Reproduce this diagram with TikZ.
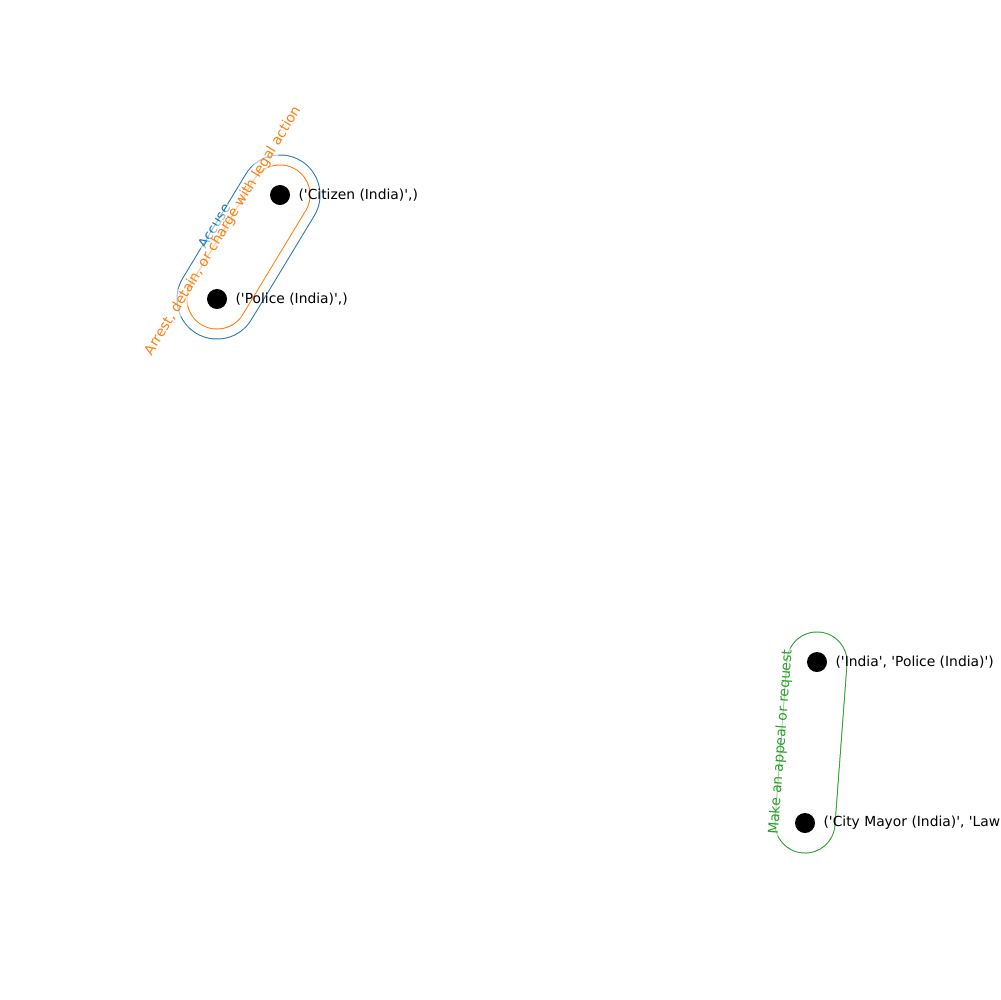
\documentclass[tikz,border=0pt]{standalone}
\usepackage{fontspec}
\setmainfont{DejaVu Sans}[Ligatures=TeXOff]
\usepackage{tikz}
\usetikzlibrary{backgrounds}

\definecolor{c1}{HTML}{1F77B4}
\definecolor{c2}{HTML}{FF7F0E}
\definecolor{c3}{HTML}{2CA02C}

\tikzset{
  vertex/.style={circle, fill=black, inner sep=0pt, minimum size=0.2in},
  vlabel/.style={inner sep=0pt, font=\fontsize{10}{12}\selectfont, label distance=0.08in},
  hull/.style={draw=#1, double=white, line width=0.01in, line cap=round},
  elabel/.style={text=#1, fill=white, fill opacity=0.55, text opacity=1, inner sep=1pt, font=\fontsize{10}{12}\selectfont},
}

\begin{document}
\begin{tikzpicture}[x=0.01in, y=-0.01in]
        \useasboundingbox (0,0) rectangle (1000,1000);
        \clip (0,0) rectangle (1000,1000);

        \node[vertex, label={[vlabel]right:{('Citizen (India)',)}}] (citizen) at (280,195) {};
        \node[vertex, label={[vlabel]right:{('Police (India)',)}}] (police) at (217,299) {};
        \node[vertex, label={[vlabel]right:{('India', 'Police (India)')}}] (indiapolice) at (817,662) {};
        \node[vertex, label={[vlabel]right:{('City Mayor (India)', 'Law}}] (mayor) at (805,823) {};

        \begin{pgfonlayer}{background}
        \draw[hull=c1, double distance=0.79in] (police.center) -- (citizen.center);
        \draw[hull=c2, double distance=0.59in] (police.center) -- (citizen.center);
        \draw[hull=c3, double distance=0.59in] (mayor.center) -- (indiapolice.center);

        \node[elabel=c1, rotate=58.8] (accuse) at (214,226) {Accuse};
        \node[elabel=c2, rotate=58.8] (arrest) at (223,231) {Arrest, detain, or charge with legal action};
        \node[elabel=c3, rotate=85.7] (appeal) at (781,742) {Make an appeal or request};
        \end{pgfonlayer}
    \end{tikzpicture}
\end{document}
